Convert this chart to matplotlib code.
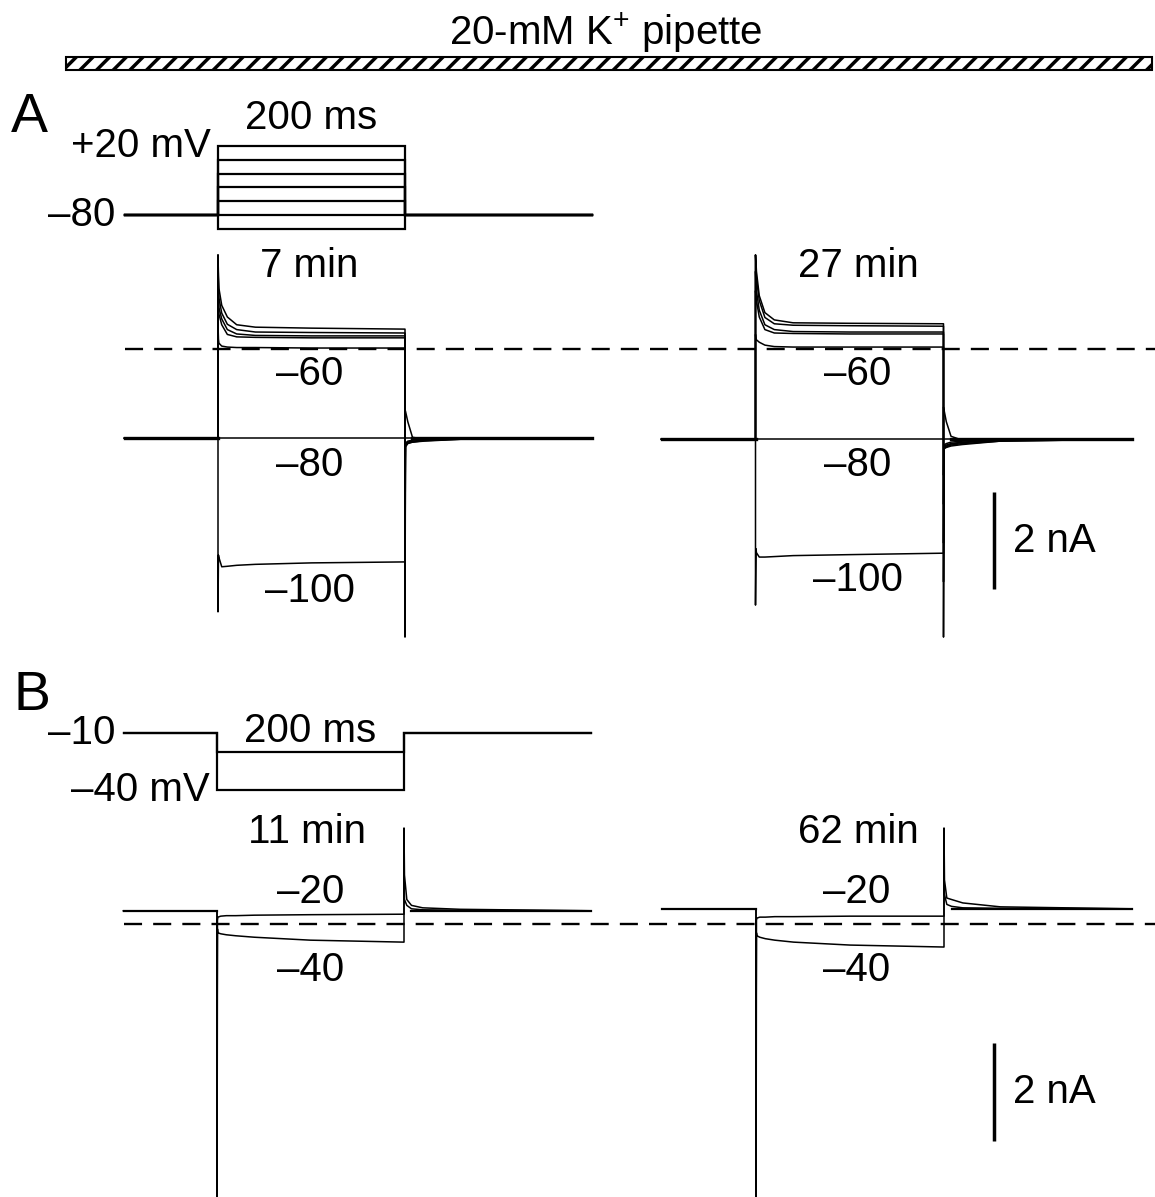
import matplotlib
matplotlib.use('Agg')
import matplotlib.pyplot as plt
from matplotlib.patches import Rectangle

plt.rcParams['font.family'] = ['Liberation Sans', 'DejaVu Sans']
plt.rcParams['mathtext.fontset'] = 'custom'
plt.rcParams['mathtext.rm'] = 'Liberation Sans'
plt.rcParams['hatch.linewidth'] = 2.5
plt.rcParams['lines.scale_dashes'] = False

# --- datos -----------------------------------------------------------
# tiempos (ms): pulso de 0 a 200 ms, registro de -100 a 400 ms
T_START, T_END, STEP_MS = -100, 400, 200
T_STEP = [0, 0.5, 1, 4, 10, 20, 40, 100, 200]
T_TAIL = [200, 200.5, 203, 208, 220, 260, 400]

# protocolo A: mantenido a -80 mV, pulsos de -100 a +20 mV
HOLD_A = -80
STEPS_A = [20, 0, -20, -40, -60, -80, -100]
# protocolo B: mantenido a -10 mV, pulsos a -20 y -40 mV
HOLD_B = -10
STEPS_B = [-20, -40]

# corrientes (nA), una fila por pulso, en el orden de STEPS_A
A7_HOLD = -1.84
A7_STEP = [
    [1.94, 1.5, 1.25, 0.90, 0.66, 0.50, 0.45, 0.43, 0.41],
    [1.94, 1.3, 1.05, 0.74, 0.51, 0.40, 0.35, 0.34, 0.33],
    [1.90, 1.1, 0.85, 0.62, 0.40, 0.31, 0.28, 0.27, 0.27],
    [1.5, 0.9, 0.72, 0.50, 0.30, 0.25, 0.24, 0.23, 0.23],
    [0.5, 0.2, 0.12, 0.06, 0.04, 0.03, 0.03, 0.02, 0.02],
    [-1.84, -1.84, -1.84, -1.84, -1.84, -1.84, -1.84, -1.84, -1.84],
    [-5.42, -4.25, -4.3, -4.49, -4.48, -4.46, -4.44, -4.41, -4.39],
]
A7_TAIL = [
    [-5.94, -2.02, -1.95, -1.92, -1.90, -1.86, -1.84],
    [-4.8, -2.0, -1.94, -1.92, -1.89, -1.86, -1.84],
    [-4.0, -1.98, -1.93, -1.91, -1.88, -1.85, -1.84],
    [-3.2, -1.96, -1.92, -1.90, -1.88, -1.85, -1.84],
    [-2.6, -1.94, -1.90, -1.88, -1.86, -1.85, -1.84],
    [-1.84, -1.84, -1.84, -1.84, -1.84, -1.84, -1.84],
    [-1.26, -1.28, -1.5, -1.82, -1.86, -1.85, -1.84],
]

A27_HOLD = -1.86
A27_STEP = [
    [1.94, 1.8, 1.6, 1.10, 0.75, 0.60, 0.54, 0.53, 0.52],
    [1.94, 1.7, 1.45, 1.0, 0.65, 0.52, 0.49, 0.48, 0.47],
    [1.6, 1.35, 1.2, 0.80, 0.50, 0.40, 0.36, 0.35, 0.35],
    [1.2, 1.1, 1.0, 0.66, 0.40, 0.33, 0.32, 0.31, 0.31],
    [0.3, 0.2, 0.19, 0.14, 0.08, 0.05, 0.04, 0.04, 0.04],
    [-1.86, -1.86, -1.86, -1.86, -1.86, -1.86, -1.86, -1.86, -1.86],
    [-5.28, -4.12, -4.2, -4.29, -4.29, -4.28, -4.26, -4.24, -4.21],
]
A27_TAIL = [
    [-5.94, -2.06, -2.03, -2.0, -1.97, -1.90, -1.86],
    [-4.8, -2.04, -2.02, -1.98, -1.95, -1.90, -1.86],
    [-4.0, -2.02, -2.0, -1.96, -1.93, -1.88, -1.86],
    [-3.2, -2.0, -1.98, -1.95, -1.92, -1.88, -1.86],
    [-2.6, -1.98, -1.95, -1.92, -1.90, -1.87, -1.86],
    [-1.86, -1.86, -1.86, -1.86, -1.86, -1.86, -1.86],
    [-1.2, -1.25, -1.5, -1.8, -1.88, -1.87, -1.86],
]

B11_HOLD = 0.27
B11_STEP = [
    [-3.0, 0.08, 0.14, 0.16, 0.17, 0.17, 0.18, 0.19, 0.20],
    [-6.5, -0.10, -0.18, -0.20, -0.22, -0.24, -0.27, -0.33, -0.37],
]
B11_TAIL = [
    [1.0, 0.5, 0.38, 0.31, 0.29, 0.28, 0.27],
    [1.96, 1.0, 0.5, 0.38, 0.33, 0.30, 0.27],
]

B62_HOLD = 0.31
B62_STEP = [
    [-3.0, 0.08, 0.12, 0.14, 0.14, 0.15, 0.15, 0.16, 0.16],
    [-6.5, -0.18, -0.24, -0.27, -0.30, -0.33, -0.37, -0.43, -0.47],
]
B62_TAIL = [
    [1.0, 0.6, 0.40, 0.36, 0.33, 0.32, 0.31],
    [1.96, 0.9, 0.53, 0.50, 0.43, 0.35, 0.31],
]

SCALE_NA = 2

W, H = 1155, 1197
FS = 29


def panel_axes(fig, box, t0, sx, y0, sy):
    # box en pixeles (izq, arriba, der, abajo); t0/y0 = pixel del origen
    x0, top, x1, bottom = box
    ax = fig.add_axes([x0 / W, 1 - bottom / H, (x1 - x0) / W, (bottom - top) / H])
    ax.set_xlim((x0 - t0) / sx, (x1 - t0) / sx)
    ax.set_ylim((y0 - bottom) / sy, (y0 - top) / sy)
    ax.axis('off')
    return ax


def protocolo(ax, hold, steps):
    for v in steps:
        ax.plot([T_START, 0, 0, STEP_MS, STEP_MS, T_END],
                [hold, hold, v, v, hold, hold], color='black', lw=1.6,
                solid_joinstyle='miter')


def corrientes(ax, hold, step, tail, lw_base):
    for s, tl in zip(step, tail):
        ax.plot([T_START, 0] + T_STEP + T_TAIL, [hold, hold] + s + tl,
                color='black', lw=1.1)
    ax.plot([T_START, 0], [hold, hold], color='black', lw=lw_base)
    ax.plot(T_TAIL[3:], [hold] * len(T_TAIL[3:]), color='black', lw=lw_base)


def cero(ax):
    ax.plot([T_START, ax.get_xlim()[1]], [0, 0], color='black', lw=1.7,
            linestyle=(0, (13, 8)))


def escala(ax, t, y, ytxt):
    ax.plot([t, t], [y, y + SCALE_NA], color='black', lw=2.5,
            solid_capstyle='butt')
    ax.text(t + 20, ytxt, '%d nA' % SCALE_NA, fontsize=FS, ha='left', va='center')


fig = plt.figure(figsize=(W / 100, H / 100), dpi=100)

# titulo y barra rayada
fig.text(606 / W, 1 - 45 / H, '20-mM K$^{+}$ pipette', fontsize=FS,
         ha='center', va='baseline')
fig.patches.append(Rectangle((66 / W, 1 - 70 / H), (1152 - 66) / W, 13 / H,
                             transform=fig.transFigure, facecolor='white',
                             edgecolor='black', hatch='//', linewidth=1.5))

fig.text(11 / W, 1 - 132 / H, 'A', fontsize=40, ha='left', va='baseline')
fig.text(13 / W, 1 - 710 / H, 'B', fontsize=40, ha='left', va='baseline')

# ---- panel A ----
axp = panel_axes(fig, (100, 110, 640, 240), 218, 0.935, 159.8, 0.692)
protocolo(axp, HOLD_A, STEPS_A)
axp.text(-8, 20, '+20 mV', fontsize=FS, ha='right', va='center')
axp.text(STEP_MS / 2, 33, '200 ms', fontsize=FS, ha='center', va='bottom')
axp.text(-110, HOLD_A, '\u201380', fontsize=FS, ha='right', va='center')

ax1 = panel_axes(fig, (100, 240, 1155, 650), 218, 0.935, 349, 48.5)
cero(ax1)
corrientes(ax1, A7_HOLD, A7_STEP, A7_TAIL, 2.4)
ax1.text(98, 1.48, '7 min', fontsize=FS, ha='center', va='baseline')
ax1.text(98, -0.52, '\u201360', fontsize=FS, ha='center', va='center')
ax1.text(98, -2.39, '\u201380', fontsize=FS, ha='center', va='center')
ax1.text(98, -5.0, '\u2013100', fontsize=FS, ha='center', va='center')

ax2 = panel_axes(fig, (640, 240, 1155, 650), 755.5, 0.94, 349, 48.5)
corrientes(ax2, A27_HOLD, A27_STEP, A27_TAIL, 2.4)
ax2.text(109, 1.48, '27 min', fontsize=FS, ha='center', va='baseline')
ax2.text(109, -0.52, '\u201360', fontsize=FS, ha='center', va='center')
ax2.text(109, -2.39, '\u201380', fontsize=FS, ha='center', va='center')
ax2.text(109, -4.76, '\u2013100', fontsize=FS, ha='center', va='center')
escala(ax2, 254, -4.95, -3.96)

# ---- panel B ----
axq = panel_axes(fig, (100, 700, 640, 810), 217, 0.935, 714, 1.9)
protocolo(axq, HOLD_B, STEPS_B)
axq.text(-109, HOLD_B, '\u201310', fontsize=FS, ha='right', va='center')
axq.text(STEP_MS / 2, -14.7, '200 ms', fontsize=FS, ha='center', va='baseline')
axq.text(-8, -40, '\u201340 mV', fontsize=FS, ha='right', va='center')

ax3 = panel_axes(fig, (100, 810, 1155, 1197), 217, 0.935, 924, 49)
cero(ax3)
corrientes(ax3, B11_HOLD, B11_STEP, B11_TAIL, 1.6)
ax3.text(96, 1.65, '11 min', fontsize=FS, ha='center', va='baseline')
ax3.text(100, 0.65, '\u201320', fontsize=FS, ha='center', va='center')
ax3.text(100, -0.94, '\u201340', fontsize=FS, ha='center', va='center')

ax4 = panel_axes(fig, (640, 810, 1155, 1197), 756, 0.94, 924, 49)
corrientes(ax4, B62_HOLD, B62_STEP, B62_TAIL, 1.6)
ax4.text(109, 1.65, '62 min', fontsize=FS, ha='center', va='baseline')
ax4.text(107, 0.65, '\u201320', fontsize=FS, ha='center', va='center')
ax4.text(107, -0.94, '\u201340', fontsize=FS, ha='center', va='center')
escala(ax4, 253, -4.43, -3.43)

fig.savefig('out.png', dpi=100)
